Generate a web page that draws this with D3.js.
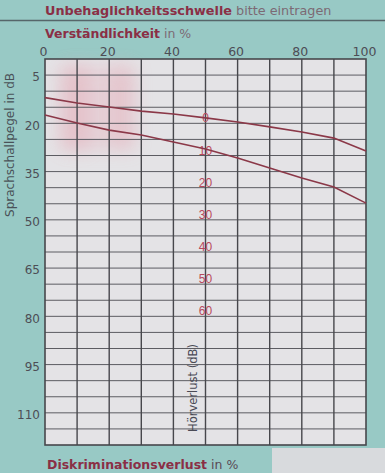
<!DOCTYPE html>
<html>
<head>
<meta charset="utf-8">
<script src="https://cdn.jsdelivr.net/npm/d3@7"></script>
<style>
	html, body { margin:0; padding:0; background:#98c9c5; }
	svg { display:block; font-family:"DejaVu Sans", sans-serif; }
</style>
</head>
<body>
<svg id="chart" width="385" height="473"></svg>
<script>
// x: Verständlichkeit in %, y: Sprachschallpegel in dB
var intell_ticks = [0, 20, 40, 60, 80, 100];
var level_ticks = [5, 20, 35, 50, 65, 80, 95, 110];
var hoerverlust_ticks = [0, 10, 20, 30, 40, 50, 60];
var curve_x = [0, 10, 20, 30, 40, 50, 60, 70, 80, 90, 100];
var upper_curve = [12.0, 13.7, 14.9, 16.2, 17.1, 18.3, 19.6, 21.1, 22.7, 24.6, 28.6];
var lower_curve = [17.4, 19.9, 22.1, 23.6, 25.8, 28.0, 30.8, 33.9, 37.0, 39.8, 44.8];

var svg = d3.select("#chart");
var x = d3.scaleLinear().domain([0, 100]).range([45, 366]);
var y = d3.scaleLinear().domain([0, 120]).range([59, 445]);

var maroon = "#8a2f45";
var grid_col = "#47474c";

// pale box bottom right
svg.append("rect").attr("x", 272).attr("y", 448).attr("width", 113).attr("height", 25).attr("fill", "#d8dadd");

// header
svg.append("line").attr("x1", 0).attr("x2", 385).attr("y1", 20.5).attr("y2", 20.5)
	.attr("stroke", "#56666a").attr("stroke-width", 1.6);
var head = svg.append("text").attr("x", 45).attr("y", 15).style("font-size", "12.8px");
head.append("tspan").attr("font-weight", "bold").attr("fill", maroon).text("Unbehaglichkeitsschwelle");
head.append("tspan").attr("fill", "#7c6a74").text(" bitte eintragen");

var xt = svg.append("text").attr("x", 45).attr("y", 38).style("font-size", "12.5px");
xt.append("tspan").attr("font-weight", "bold").attr("fill", maroon).text("Verständlichkeit");
xt.append("tspan").attr("fill", "#7c6a74").text(" in %");

var bt = svg.append("text").attr("x", 47).attr("y", 469).style("font-size", "12.5px");
bt.append("tspan").attr("font-weight", "bold").attr("fill", maroon).text("Diskriminationsverlust");
bt.append("tspan").attr("fill", "#5a4a55").text(" in %");

// paper
svg.append("rect").attr("x", x(0)).attr("y", y(0)).attr("width", x(100) - x(0)).attr("height", y(120) - y(0))
	.attr("fill", "#e4e3e6");

// pinkish reflection
var defs = svg.append("defs");
defs.append("filter").attr("id", "blur").attr("x", "-50%").attr("y", "-50%").attr("width", "200%").attr("height", "200%")
	.append("feGaussianBlur").attr("stdDeviation", 9);
svg.append("rect").attr("x", 60).attr("y", 66).attr("width", 75).attr("height", 84)
	.attr("fill", "#e8a3b0").attr("opacity", 0.25).attr("filter", "url(#blur)");
svg.append("rect").attr("x", 62).attr("y", 66).attr("width", 28).attr("height", 84)
	.attr("fill", "#e597a6").attr("opacity", 0.28).attr("filter", "url(#blur)");
svg.append("rect").attr("x", 110).attr("y", 66).attr("width", 22).attr("height", 82)
	.attr("fill", "#e597a6").attr("opacity", 0.24).attr("filter", "url(#blur)");

// grid
svg.append("g").selectAll("line").data(d3.range(5, 120, 5)).enter().append("line")
	.attr("x1", x(0)).attr("x2", x(100))
	.attr("y1", function (d) { return y(d); }).attr("y2", function (d) { return y(d); })
	.attr("stroke", "#5c5c62").attr("stroke-width", 1);
svg.append("g").selectAll("line").data(d3.range(10, 100, 10)).enter().append("line")
	.attr("y1", y(0)).attr("y2", y(120))
	.attr("x1", function (d) { return x(d); }).attr("x2", function (d) { return x(d); })
	.attr("stroke", grid_col).attr("stroke-width", 1.4);
svg.append("rect").attr("x", x(0)).attr("y", y(0)).attr("width", x(100) - x(0)).attr("height", y(120) - y(0))
	.attr("fill", "none").attr("stroke", grid_col).attr("stroke-width", 1.6);

// axes
var x_axis = svg.append("g").attr("transform", "translate(-2," + (y(0) - 3) + ")")
	.call(d3.axisTop(x).tickValues(intell_ticks).tickSize(0).tickPadding(0));
x_axis.select(".domain").remove();
x_axis.selectAll("text").attr("fill", "#4d4d55").style("font-size", "12.5px")
	.style("font-family", "DejaVu Sans, sans-serif");

var y_axis = svg.append("g").attr("transform", "translate(" + (x(0) - 5) + ",2)")
	.call(d3.axisLeft(y).tickValues(level_ticks).tickSize(0).tickPadding(0));
y_axis.select(".domain").remove();
y_axis.selectAll("text").attr("fill", "#4d4d55").style("font-size", "12px")
	.style("font-family", "DejaVu Sans, sans-serif");

svg.append("text").attr("transform", "translate(14,145) rotate(-90)")
	.attr("text-anchor", "middle").attr("fill", "#4a5258").style("font-size", "12px")
	.text("Sprachschallpegel in dB");

// Hörverlust scale on the 50% line
svg.append("g").selectAll("text").data(hoerverlust_ticks).enter().append("text")
	.attr("x", x(50)).attr("y", function (d) { return y(d + 20) - 1; })
	.attr("text-anchor", "middle").attr("fill", "#b8495c").style("font-size", "12px")
	.style("font-family", "Liberation Sans, Arial, sans-serif")
	.text(function (d) { return d; });
svg.append("text").attr("transform", "translate(197,388) rotate(-90)")
	.attr("text-anchor", "middle").attr("fill", "#4a4a55").style("font-size", "11.5px")
	.text("Hörverlust (dB)");

// normal curves
var line = d3.line()
	.x(function (d) { return x(d[0]); })
	.y(function (d) { return y(d[1]); });
[upper_curve, lower_curve].forEach(function (c) {
	svg.append("path").datum(d3.zip(curve_x, c)).attr("d", line)
		.attr("fill", "none").attr("stroke", "#8b3848").attr("stroke-width", 1.6);
});
</script>
</body>
</html>
